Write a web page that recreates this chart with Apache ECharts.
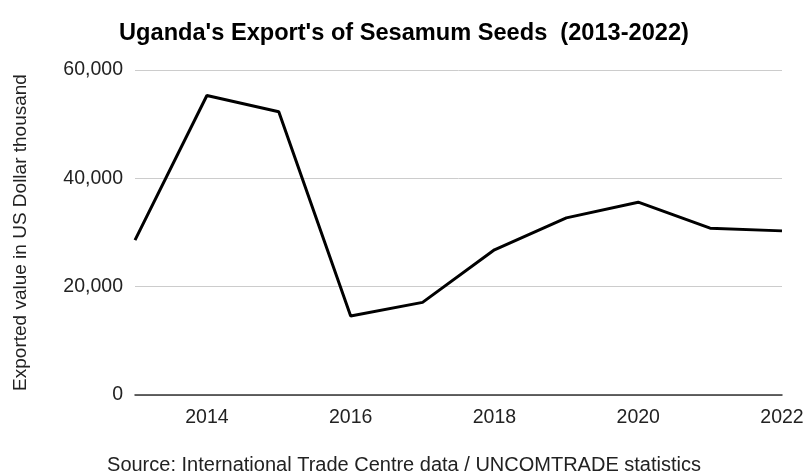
<!DOCTYPE html>
<html>
<head>
<meta charset="utf-8">
<script src="https://cdn.jsdelivr.net/npm/echarts@6/dist/echarts.min.js"></script>
<style>html,body{margin:0;padding:0;background:#fff}#c{width:808px;height:472px}</style>
</head>
<body>
<div id="c"></div>
<script>
const years = ['2013','2014','2015','2016','2017','2018','2019','2020','2021','2022'];
const exportValues = [28600, 55300, 52300, 14600, 17100, 26800, 32700, 35600, 30800, 30300];
const yTicks = [0, 20000, 40000, 60000];

const chart = echarts.init(document.getElementById('c'), null, {renderer: 'canvas'});
const font = 'Arial, "Liberation Sans", Helvetica, sans-serif';
chart.setOption({
  backgroundColor: '#fff',
  animation: false,
  title: [
    {text: "Uganda's Export's of Sesamum Seeds  (2013-2022)", left: 'center', top: 16,
     textStyle: {fontFamily: font, fontSize: 23.6, fontWeight: 'bold', color: '#000'}},
    {text: 'Source: International Trade Centre data / UNCOMTRADE statistics', left: 'center', top: 450,
     textStyle: {fontFamily: font, fontSize: 20, fontWeight: 'normal', color: '#222'}}
  ],
  grid: {left: 135, right: 26, top: 70, bottom: 77, containLabel: false},
  xAxis: {
    type: 'category', data: years, boundaryGap: false,
    axisLine: {lineStyle: {color: '#333', width: 1.5}},
    axisTick: {show: false},
    axisLabel: {interval: (i) => i % 2 === 1, fontFamily: font, fontSize: 19.5, color: '#222', margin: 13},
    splitLine: {show: false}
  },
  yAxis: {
    type: 'value', min: yTicks[0], max: yTicks[yTicks.length-1], interval: 20000,
    name: 'Exported value in US Dollar thousand', nameLocation: 'middle', nameGap: 105,
    nameTextStyle: {fontFamily: font, fontSize: 19, color: '#222'},
    axisLine: {show: false}, axisTick: {show: false},
    axisLabel: {fontFamily: font, fontSize: 19.5, color: '#222', margin: 12,
      formatter: v => v.toLocaleString('en-US')},
    splitLine: {lineStyle: {color: '#ccc', width: 1}}
  },
  series: [{
    type: 'line', data: exportValues, showSymbol: false, symbol: 'none',
    lineStyle: {color: '#000', width: 3}
  }]
});
</script>
</body>
</html>
